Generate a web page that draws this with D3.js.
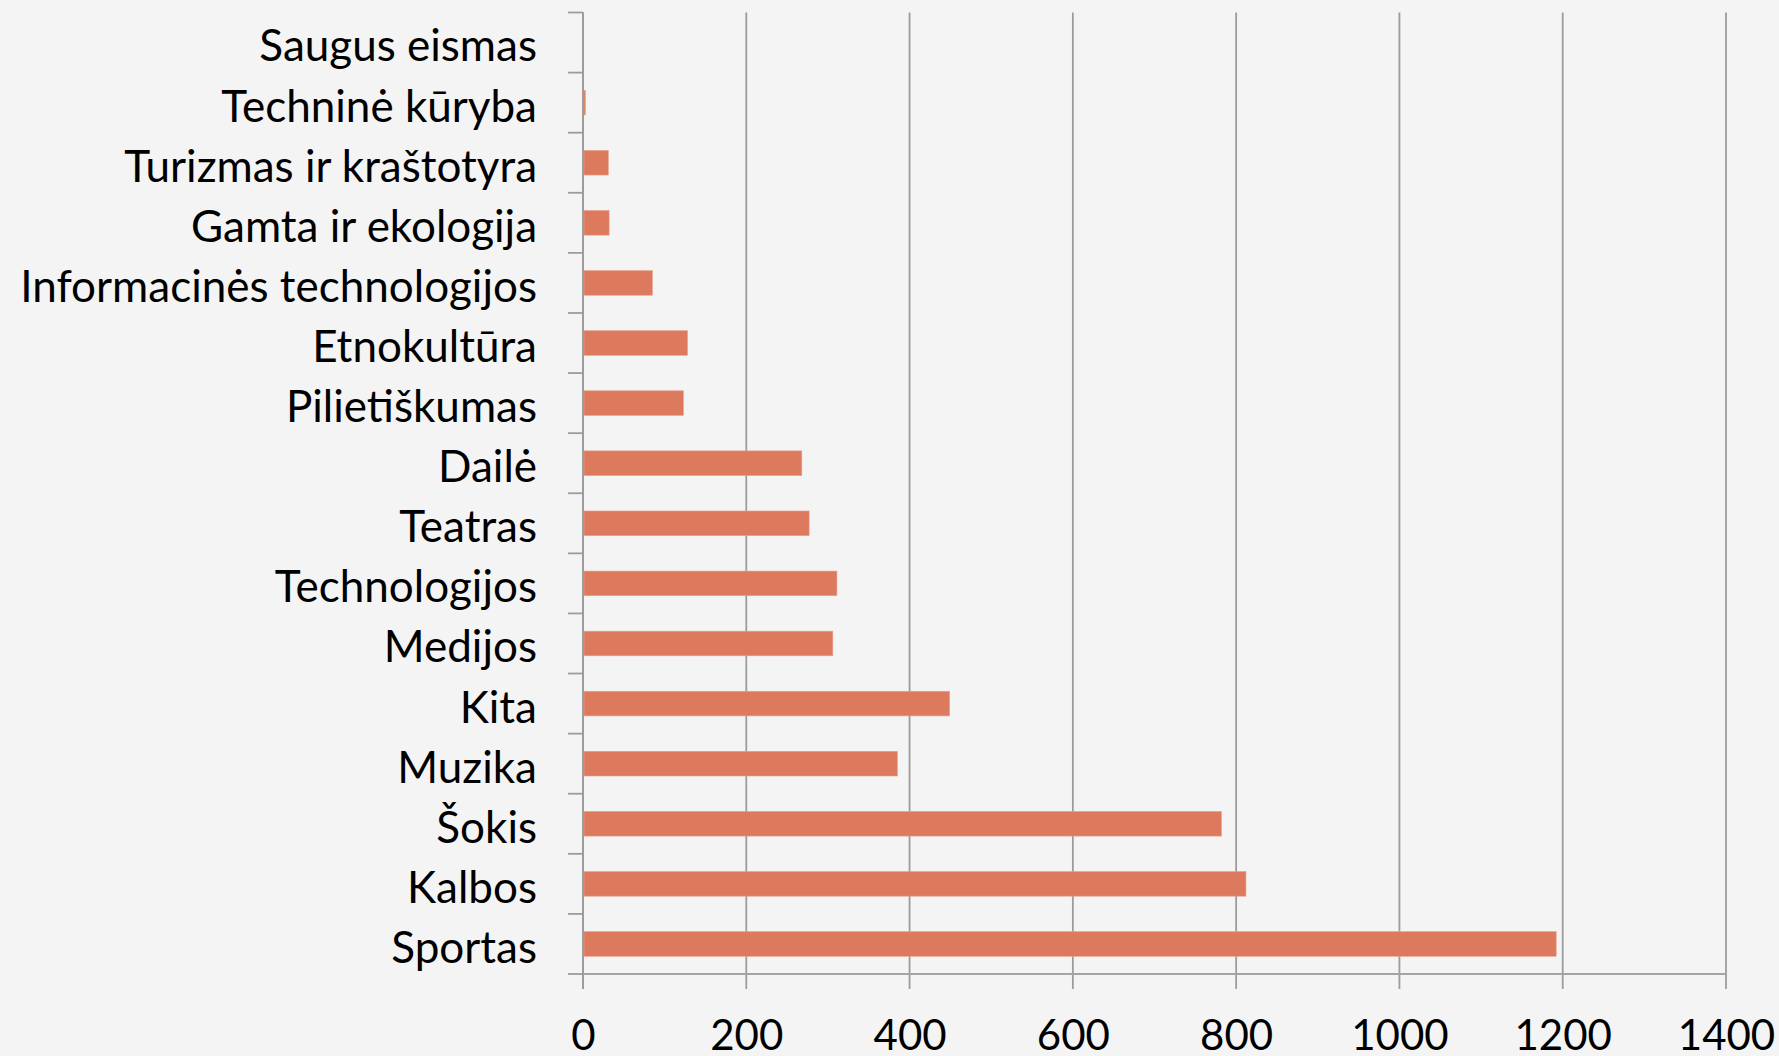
<!DOCTYPE html>
<html>
<head>
<meta charset="utf-8">
<script src="https://d3js.org/d3.v7.min.js"></script>
<style>
  html, body { margin: 0; padding: 0; background: #f4f4f4; }
  svg { display: block; }
  text { font-family: Lato, "Open Sans", sans-serif; fill: #000; }
</style>
</head>
<body>
<svg id="chart"></svg>
<script>
// Horizontal bar chart, categories listed top to bottom

var categories = [
  "Saugus eismas",
  "Techninė kūryba",
  "Turizmas ir kraštotyra",
  "Gamta ir ekologija",
  "Informacinės technologijos",
  "Etnokultūra",
  "Pilietiškumas",
  "Dailė",
  "Teatras",
  "Technologijos",
  "Medijos",
  "Kita",
  "Muzika",
  "Šokis",
  "Kalbos",
  "Sportas"
];

var values = [0, 3, 31, 32, 85, 128, 123, 268, 277, 311, 306, 449, 385, 782, 812, 1192];

var xTicks = [0, 200, 400, 600, 800, 1000, 1200, 1400];

var width = 1779,
    height = 1056;

var m = [12.5, 53, 82, 583],   // top, right, bottom, left
    w = width - m[1] - m[3],
    h = height - m[0] - m[2];

var data = categories.map(function(c, i) { return { name: c, value: values[i] }; });

var svg = d3.select("#chart")
    .attr("width", width)
    .attr("height", height);

svg.append("rect")
    .attr("width", width)
    .attr("height", height)
    .attr("fill", "#f4f4f4");

var g = svg.append("g")
    .attr("transform", `translate(${m[3]},${m[0]})`);

var x = d3.scaleLinear()
    .domain([0, 1400])
    .range([0, w]);

var y = d3.scaleBand()
    .domain(categories)
    .range([0, h])
    .paddingInner(0.59)
    .paddingOuter(0.295);

// vertical gridlines
g.append("g")
    .attr("class", "grid")
    .selectAll("line")
    .data(xTicks)
    .enter().append("line")
    .attr("x1", function(d) { return x(d); })
    .attr("x2", function(d) { return x(d); })
    .attr("y1", 0)
    .attr("y2", h + 15)
    .attr("stroke", "#9c9c9c")
    .attr("stroke-width", 1.8);

// category boundary ticks on the left axis
var bounds = d3.range(categories.length + 1);
g.append("g")
    .selectAll("line")
    .data(bounds)
    .enter().append("line")
    .attr("x1", -15)
    .attr("x2", 0)
    .attr("y1", function(i) { return i * y.step(); })
    .attr("y2", function(i) { return i * y.step(); })
    .attr("stroke", "#9c9c9c")
    .attr("stroke-width", 1.8);

// bottom axis line
g.append("line")
    .attr("x1", -15)
    .attr("x2", w)
    .attr("y1", h)
    .attr("y2", h)
    .attr("stroke", "#a4a4a4")
    .attr("stroke-width", 1.8);

// bars
g.selectAll(".bar")
    .data(data)
    .enter().append("rect")
    .attr("class", "bar")
    .attr("x", x(0) + 1)
    .attr("y", function(d) { return y(d.name); })
    .attr("width", function(d) { return Math.max(0, x(d.value) - x(0) - 1); })
    .attr("height", y.bandwidth())
    .attr("fill", "#dd795d")
    .attr("stroke", "#e8a08c")
    .attr("stroke-width", function(d) { return d.value > 0 ? 0.6 : 0; });

// left axis line
g.append("line")
    .attr("x1", 0)
    .attr("x2", 0)
    .attr("y1", 0)
    .attr("y2", h + 15)
    .attr("stroke", "#9c9c9c")
    .attr("stroke-width", 2);

// category labels
var yAxis = g.append("g")
    .call(d3.axisLeft(y).tickSize(0).tickPadding(46));
yAxis.select(".domain").remove();
yAxis.selectAll("text")
    .style("font-family", "Lato, 'Open Sans', sans-serif")
    .style("font-size", "44px")
    .attr("dy", "0.43em")
    .attr("fill", "#000");

// x tick labels
var xAxis = g.append("g")
    .attr("transform", `translate(0,${h})`)
    .call(d3.axisBottom(x).tickValues(xTicks).tickSize(15).tickPadding(31).tickFormat(d3.format("d")));
xAxis.select(".domain").remove();
xAxis.selectAll("line").remove();
xAxis.selectAll("text")
    .style("font-family", "Lato, 'Open Sans', sans-serif")
    .style("font-size", "42px")
    .attr("fill", "#000");
</script>
</body>
</html>
